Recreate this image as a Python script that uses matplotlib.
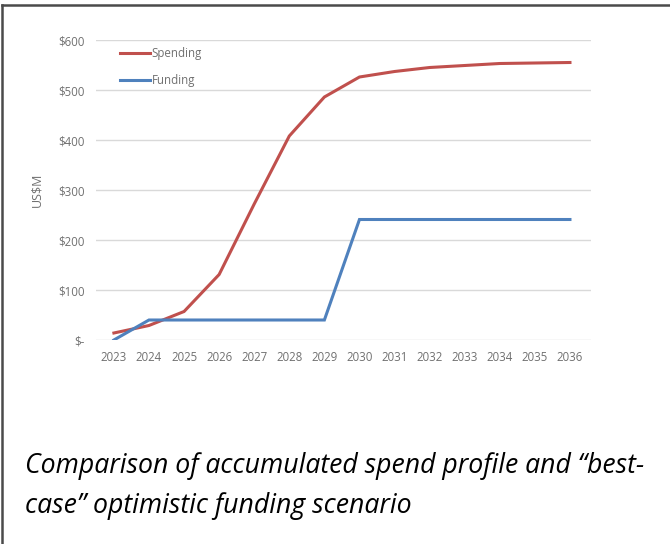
import matplotlib.pyplot as plt
from matplotlib.lines import Line2D
from matplotlib.ticker import FuncFormatter

years = list(range(2023, 2037))
spending = [14, 29, 57, 131, 272, 408, 486, 526, 537, 545, 549, 553, 554, 555]
funding = [0, 40, 40, 40, 40, 40, 40, 241, 241, 241, 241, 241, 241, 241]
y_ticks = [0, 100, 200, 300, 400, 500, 600]
caption = "Comparison of accumulated spend profile and \u201cbest-\ncase\u201d optimistic funding scenario"

W, H = 670, 544
fig = plt.figure(figsize=(W / 100, H / 100), dpi=100)

# axes box in pixels: x 96..591, y 40..340
ax = fig.add_axes([96 / W, 1 - 340 / H, (591 - 96) / W, 300 / H])
ax.plot(years, spending, color='#C0504D', lw=2.2, label='Spending', solid_joinstyle='miter')
ax.plot(years, funding, color='#4F81BD', lw=2.2, label='Funding', solid_joinstyle='miter')

ax.set_xlim(2022.49, 2036.6)
ax.set_ylim(0, 600)
ax.set_xticks(years)
ax.set_yticks(y_ticks)
ax.yaxis.set_major_formatter(FuncFormatter(lambda v, p: '$-' if v == 0 else f'${v:.0f}'))
ax.grid(axis='y', color='#d9d9d9', lw=1)
ax.set_axisbelow(True)
for s in ax.spines.values():
    s.set_visible(False)
ax.tick_params(length=0, labelsize=8.3, labelcolor='#707070', pad=8)
for lab in ax.get_xticklabels() + ax.get_yticklabels():
    lab.set_family('Open Sans')
ax.set_ylabel('US$M', fontsize=9, color='#707070', family='Open Sans', labelpad=11)

leg = ax.legend(loc='upper left', bbox_to_anchor=(120 / W, 1 - 47 / H),
                bbox_transform=fig.transFigure, frameon=False, handlelength=2.6,
                handletextpad=0.15, labelspacing=1.2, borderpad=0, borderaxespad=0,
                prop={'family': 'Open Sans', 'size': 8.3})
for t in leg.get_texts():
    t.set_color('#707070')

fig.text(25 / W, 1 - 486 / H, caption, fontsize=19.2, style='italic', family='Open Sans',
         va='center', ha='left', linespacing=1.55, color='black')

# page frame (top and left edges only)
fig.add_artist(Line2D([2 / W, 1], [1 - 5 / H, 1 - 5 / H], color='#4a4a4a', lw=1.8,
                      transform=fig.transFigure))
fig.add_artist(Line2D([2 / W, 2 / W], [0, 1 - 5 / H], color='#4a4a4a', lw=1.8,
                      transform=fig.transFigure))

fig.savefig('out.png', dpi=100)
